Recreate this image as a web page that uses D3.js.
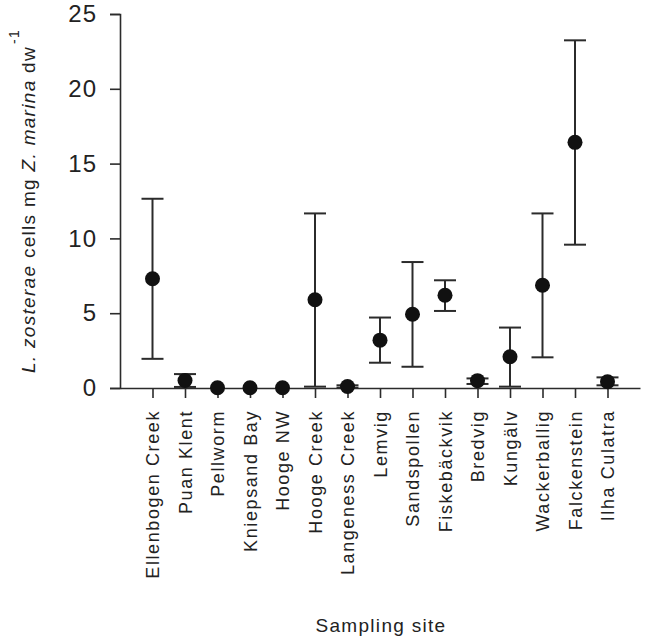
<!DOCTYPE html>
<html>
<head>
<meta charset="utf-8">
<script src="https://cdn.jsdelivr.net/npm/d3@7"></script>
<style>
  body { margin: 0; background: #fff; }
  svg { display: block; font-family: "Liberation Sans", Arial, sans-serif; }
</style>
</head>
<body>
<svg id="chart" width="647" height="640"></svg>
<script>
const sites = ["Ellenbogen Creek", "Puan Klent", "Pellworm", "Kniepsand Bay", "Hooge NW",
  "Hooge Creek", "Langeness Creek", "Lemvig", "Sandspollen", "Fiskebäckvik",
  "Bredvig", "Kungälv", "Wackerballig", "Falckenstein", "Ilha Culatra"];
const means = [7.3, 0.5, 0.02, 0.02, 0.02, 5.9, 0.1, 3.2, 4.93, 6.2, 0.49, 2.09, 6.87, 16.42, 0.42];
const lowers = [1.95, 0.07, 0.02, 0.02, 0.02, 0.09, 0.02, 1.69, 1.42, 5.15, 0.27, 0.09, 2.05, 9.58, 0.18];
const uppers = [12.65, 0.93, 0.02, 0.02, 0.02, 11.67, 0.18, 4.71, 8.42, 7.2, 0.64, 4.04, 11.67, 23.24, 0.71];
const yTicks = [0, 5, 10, 15, 20, 25];

const data = sites.map((s, i) => ({ site: s, mean: means[i], lo: lowers[i], hi: uppers[i] }));

const svg = d3.select("#chart");
const ink = "#2b2b2b";

const x = d3.scalePoint().domain(sites).range([120, 640]).padding(1);
const y = d3.scaleLinear().domain([0, 25]).range([388, 14]);

// Y axis
const yAxis = svg.append("g").attr("transform", "translate(120,0)")
  .call(d3.axisLeft(y).tickValues(yTicks).tickSize(10).tickPadding(13).tickFormat(d3.format("d")));
yAxis.select(".domain").attr("stroke", ink).attr("stroke-width", 1.6);
yAxis.selectAll(".tick line").attr("stroke", ink).attr("stroke-width", 1.6);
yAxis.selectAll(".tick text").attr("font-size", 24).attr("fill", "#222")
  .attr("font-family", "Liberation Sans, Arial, sans-serif").attr("letter-spacing", 1);

// X axis
const xAxis = svg.append("g").attr("transform", "translate(0,388)")
  .call(d3.axisBottom(x).tickSize(10).tickSizeOuter(0).tickPadding(12));
xAxis.select(".domain").attr("stroke", ink).attr("stroke-width", 1.6);
xAxis.selectAll(".tick line").attr("stroke", ink).attr("stroke-width", 1.6);
xAxis.selectAll(".tick text")
  .attr("font-size", 18).attr("fill", "#222").attr("letter-spacing", 1.6)
  .attr("font-family", "Liberation Sans, Arial, sans-serif")
  .attr("text-anchor", "end")
  .attr("transform", "rotate(-90)")
  .attr("x", -22).attr("y", 0).attr("dy", "0.35em");

// Error bars
const eb = svg.append("g");
const capHalf = 11;
data.filter(d => d.hi > d.lo).forEach(d => {
  const cx = x(d.site);
  eb.append("line").attr("x1", cx).attr("x2", cx).attr("y1", y(d.lo)).attr("y2", y(d.hi))
    .attr("stroke", ink).attr("stroke-width", 2);
  [d.lo, d.hi].forEach(v => {
    eb.append("line").attr("x1", cx - capHalf).attr("x2", cx + capHalf)
      .attr("y1", y(v)).attr("y2", y(v)).attr("stroke", ink).attr("stroke-width", 2);
  });
});

// Points
svg.append("g").selectAll("circle").data(data).join("circle")
  .attr("cx", d => x(d.site)).attr("cy", d => y(d.mean)).attr("r", 7.5)
  .attr("fill", "#111");

// X axis title
svg.append("text").attr("x", 381).attr("y", 632).attr("text-anchor", "middle")
  .attr("font-size", 19).attr("letter-spacing", 1.3).attr("fill", "#222")
  .text("Sampling site");

// Y axis title
const yt = svg.append("text").attr("transform", "translate(35,373) rotate(-90)")
  .attr("font-size", 19).attr("letter-spacing", 1.3).attr("fill", "#222");
yt.append("tspan").attr("font-style", "italic").text("L. zosterae");
yt.append("tspan").text(" cells mg ");
yt.append("tspan").attr("font-style", "italic").text("Z. marina");
yt.append("tspan").text(" dw");
yt.append("tspan").attr("font-size", 14).attr("dy", -16).attr("dx", 2).text("-1");
</script>
</body>
</html>
